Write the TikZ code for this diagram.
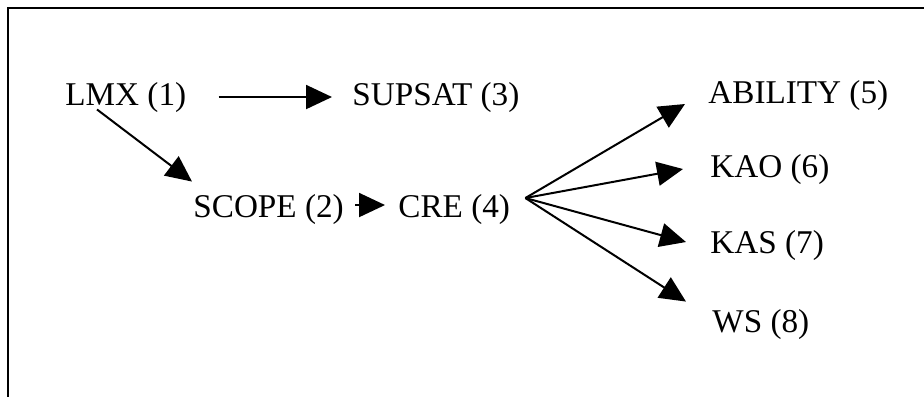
\documentclass[tikz,border=0pt]{standalone}
\usepackage{fontspec}
\setmainfont{Liberation Serif}
\usetikzlibrary{arrows.meta}
\begin{document}
\begin{tikzpicture}[x=0.5pt,y=-0.5pt,
  label/.style={inner sep=0pt,anchor=base west,font=\fontsize{16.6}{20}\selectfont},
  arr/.style={line width=1pt,-{Triangle[length=13pt,width=12pt]}},
  frame/.style={line width=1.3pt}]
\useasboundingbox (0,0) rectangle (924,397);
% open frame: top and left edges
\draw[frame] (924,8) -- (8,8) -- (8,397);
% variables
\node[label] (lmx)     at (65,105)  {LMX (1)};
\node[label] (supsat)  at (352,105) {SUPSAT (3)};
\node[label] (scope)   at (193,217) {SCOPE (2)};
\node[label] (cre)     at (398,217) {CRE (4)};
\node[label] (ability) at (708,103) {ABILITY (5)};
\node[label] (kao)     at (710,177) {KAO (6)};
\node[label] (kas)     at (710,253) {KAS (7)};
\node[label] (ws)      at (712,332) {WS (8)};
% fan-out point to the right of CRE
\coordinate (fan) at ([xshift=7.5pt,yshift=5.5pt]cre.east);
% paths
\draw[arr] ([xshift=16pt]lmx.east) -- ([xshift=-10pt]supsat.west);
\draw[arr] ([xshift=16pt,yshift=1.5pt]lmx.south west) -- ([xshift=-0.5pt,yshift=6pt]scope.north west);
\draw[arr] ([xshift=5.5pt,yshift=2pt]scope.east) -- ([xshift=-6.5pt,yshift=2pt]cre.west);
\draw[arr] (fan) -- ([xshift=-11.5pt,yshift=-4.5pt]ability.west);
\draw[arr] (fan) -- ([xshift=-13.5pt]kao.west);
\draw[arr] (fan) -- ([xshift=-12pt,yshift=1.5pt]kas.west);
\draw[arr] (fan) -- ([xshift=-13pt,yshift=3.5pt]ws.north west);
\end{tikzpicture}
\end{document}
